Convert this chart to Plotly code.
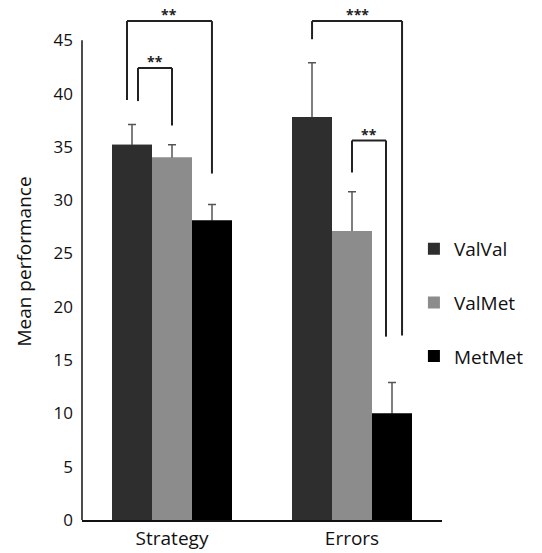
import plotly.graph_objects as go

categories = ["Strategy", "Errors"]
series_names = ["ValVal", "ValMet", "MetMet"]
means = {
    "ValVal": [35.2, 37.8],
    "ValMet": [34.0, 27.1],
    "MetMet": [28.1, 10.0],
}
errors = {
    "ValVal": [1.9, 5.1],
    "ValMet": [1.2, 3.7],
    "MetMet": [1.5, 2.9],
}
colors = {"ValVal": "#2e2e2e", "ValMet": "#8c8c8c", "MetMet": "#000000"}

# significance brackets: (x_left, y_left_bottom, x_right, y_right_bottom, y_top, label)
brackets = [
    (-0.25, 39.4, 0.222, 32.5, 46.8, "**"),
    (-0.189, 39.3, 0.0, 37.0, 42.4, "**"),
    (0.778, 45.1, 1.278, 17.3, 46.8, "***"),
    (1.0, 32.6, 1.189, 17.2, 35.6, "**"),
]
y_ticks = [0, 5, 10, 15, 20, 25, 30, 35, 40, 45]

FONT = "Open Sans"
BAR_W = 2 / 9
fig = go.Figure()
# bars with upward error bars
for i, name in enumerate(series_names):
    fig.add_trace(go.Bar(
        x=categories, y=means[name], name=name,
        width=BAR_W, offset=-1.5 * BAR_W + i * BAR_W,
        marker=dict(color=colors[name], line=dict(width=0)),
        error_y=dict(type="data", array=errors[name], symmetric=False,
                     arrayminus=[0.15] * len(categories),
                     color="#555555", thickness=1.5, width=4),
        legendgroup=name,
    ))
# same bars again on top (hide the lower error-bar caps)
for i, name in enumerate(series_names):
    fig.add_trace(go.Bar(
        x=categories, y=means[name], name=name,
        width=BAR_W, offset=-1.5 * BAR_W + i * BAR_W,
        marker=dict(color=colors[name], line=dict(width=0)),
        legendgroup=name, showlegend=False, hoverinfo="skip",
    ))

shapes = []
annotations = []
for xl, yl, xr, yr, yt, lab in brackets:
    ln = dict(color="#222222", width=2)
    shapes.append(dict(type="line", xref="x", yref="y", x0=xl, x1=xl, y0=yl, y1=yt, line=ln))
    shapes.append(dict(type="line", xref="x", yref="y", x0=xl, x1=xr, y0=yt, y1=yt, line=ln))
    shapes.append(dict(type="line", xref="x", yref="y", x0=xr, x1=xr, y0=yt, y1=yr, line=ln))
    annotations.append(dict(x=(xl + xr) / 2, y=yt, xref="x", yref="y", text="<b>" + lab + "</b>",
                            showarrow=False, yanchor="bottom", yshift=-5,
                            font=dict(family=FONT, size=14, color="#222222")))

# y-axis line up to 45 only
shapes.append(dict(type="line", xref="x domain", yref="y", x0=0, x1=0, y0=0, y1=45,
                   line=dict(color="#111111", width=1.5)))

fig.update_layout(
    width=542, height=553,
    margin=dict(l=82, r=100, t=3, b=33, autoexpand=False),
    paper_bgcolor="white", plot_bgcolor="white",
    barmode="overlay",
    font=dict(family=FONT, color="#111111"),
    shapes=shapes, annotations=annotations,
    showlegend=True,
    legend=dict(x=0.922, xanchor="left", y=0.42, yanchor="middle",
                font=dict(family=FONT, size=19, color="#111111"),
                tracegroupgap=26, bgcolor="rgba(0,0,0,0)"),
    xaxis=dict(showline=True, linecolor="#111111", linewidth=1.5, ticks="",
               automargin=False, range=[-0.5, 1.5],
               tickfont=dict(family=FONT, size=19, color="#111111"),
               showgrid=False, zeroline=False),
    yaxis=dict(range=[0, 48.5], tickvals=y_ticks, showgrid=False, zeroline=False,
               showline=False, ticks="", automargin=False, ticklabelstandoff=8,
               tickfont=dict(family=FONT, size=17, color="#111111"),
               title=dict(text="Mean performance", font=dict(family=FONT, size=19, color="#111111"),
                          standoff=16)),
)

fig.write_html("out.html", config={"displayModeBar": False},
               post_script="document.body.style.margin='0';document.body.style.overflow='hidden';")
